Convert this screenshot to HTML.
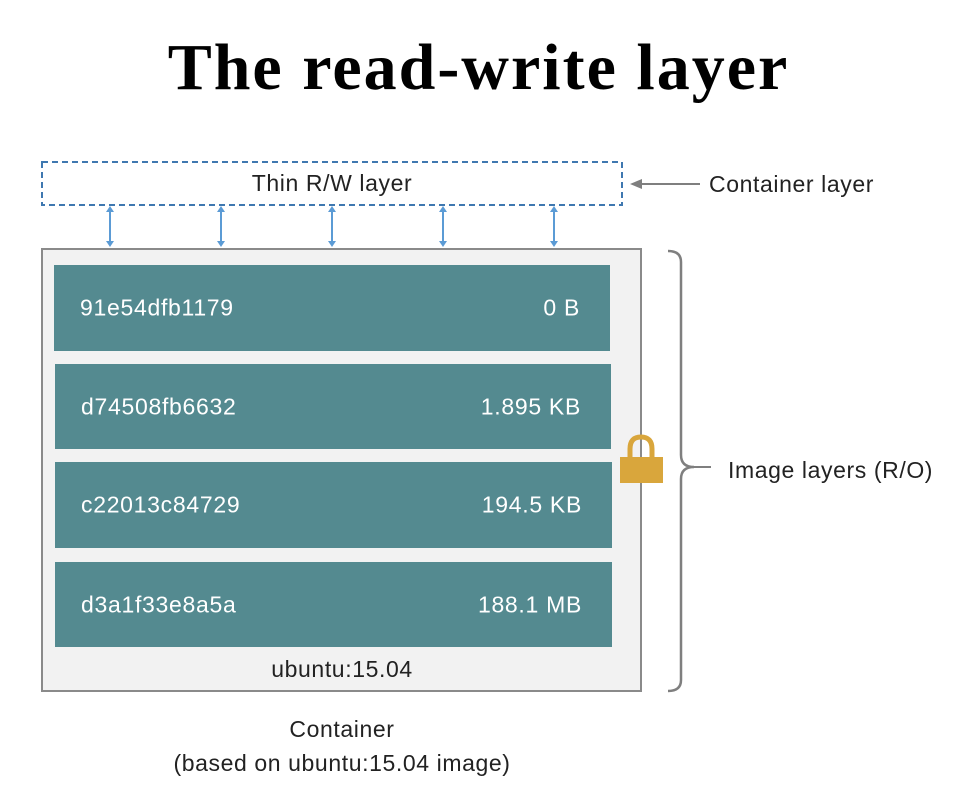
<!DOCTYPE html>
<html><head><meta charset="utf-8"><style>
body{margin:0;background:#fff;width:957px;height:812px;overflow:hidden;position:relative;font-family:"Liberation Sans",sans-serif;}
.t{position:absolute;white-space:nowrap;font-size:23px;letter-spacing:0.6px;}
.bar{position:absolute;background:#548a90;color:#fff;font-size:23px;letter-spacing:0.7px;}
.bar span{position:absolute;top:50%;transform:translateY(-50%);}
</style></head><body>
<div class="t" style="left:0;width:957px;text-align:center;top:30px;font-family:'Liberation Serif',serif;font-weight:bold;font-size:66px;letter-spacing:2px;line-height:76px;color:#000;">The read-write layer</div>
<svg width="957" height="812" style="position:absolute;left:0;top:0">
<rect x="42" y="162" width="580" height="43" fill="none" stroke="#3f78b0" stroke-width="2" stroke-dasharray="6,4"/>
<rect x="42" y="249" width="599" height="442" fill="#f2f2f2" stroke="#8a8a8a" stroke-width="2"/>
<g stroke="#5b9bd5" stroke-width="2" fill="#5b9bd5">
<line x1="110" y1="211" x2="110" y2="242"/><line x1="221" y1="211" x2="221" y2="242"/><line x1="332" y1="211" x2="332" y2="242"/><line x1="443" y1="211" x2="443" y2="242"/><line x1="554" y1="211" x2="554" y2="242"/>
</g>
<g fill="#5b9bd5">
<polygon points="106,212 110,206 114,212"/><polygon points="106,241 110,247 114,241"/>
<polygon points="217,212 221,206 225,212"/><polygon points="217,241 221,247 225,241"/>
<polygon points="328,212 332,206 336,212"/><polygon points="328,241 332,247 336,241"/>
<polygon points="439,212 443,206 447,212"/><polygon points="439,241 443,247 447,241"/>
<polygon points="550,212 554,206 558,212"/><polygon points="550,241 554,247 558,241"/>
</g>
<line x1="640" y1="184" x2="700" y2="184" stroke="#7f7f7f" stroke-width="2"/>
<polygon points="630,184 642,179 642,189" fill="#7f7f7f"/>
<path d="M668,251 Q681,251 681,262 L681,455 Q681,467 694,467 Q681,467 681,479 L681,680 Q681,691 668,691" fill="none" stroke="#7f7f7f" stroke-width="2.5"/>
<line x1="694" y1="467" x2="711" y2="467" stroke="#7f7f7f" stroke-width="2"/>
<path d="M630,458 L630,449 Q630,437 641,437 Q652,437 652,449 L652,458" fill="none" stroke="#d9a63c" stroke-width="5"/>
<rect x="620" y="457" width="43" height="26" fill="#d9a63c"/>
</svg>
<div class="t" style="left:42px;width:580px;text-align:center;top:170px;color:#222;">Thin R/W layer</div>
<div class="t" style="left:709px;top:171px;color:#222;">Container layer</div>
<div class="t" style="left:728px;top:457px;color:#222;">Image layers (R/O)</div>
<div class="bar" style="left:54px;top:265px;width:556px;height:86px;"><span style="left:26px">91e54dfb1179</span><span style="right:30px">0 B</span></div>
<div class="bar" style="left:55px;top:364px;width:556px;height:85px;"><span style="left:26px">d74508fb6632</span><span style="right:30px">1.895 KB</span></div>
<div class="bar" style="left:55px;top:462px;width:557px;height:86px;"><span style="left:26px">c22013c84729</span><span style="right:30px">194.5 KB</span></div>
<div class="bar" style="left:55px;top:562px;width:557px;height:85px;"><span style="left:26px">d3a1f33e8a5a</span><span style="right:30px">188.1 MB</span></div>
<div class="t" style="left:42px;width:600px;text-align:center;top:656px;color:#222;">ubuntu:15.04</div>
<div class="t" style="left:42px;width:600px;text-align:center;top:712px;color:#222;line-height:34px;">Container<br>(based on ubuntu:15.04 image)</div>
</body></html>
